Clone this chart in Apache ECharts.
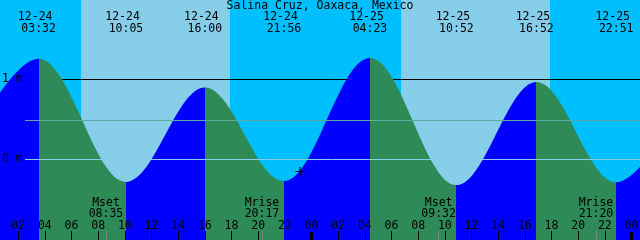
<!DOCTYPE html>
<html><head><meta charset="utf-8">
<script src="https://cdn.jsdelivr.net/npm/echarts@6/dist/echarts.min.js"></script>
<style>html,body{margin:0;padding:0;background:#00BFFF}#c{width:640px;height:240px}</style>
</head><body><div id="c"></div>
<script>
const chartTitle = 'Salina Cruz, Oaxaca, Mexico';
// tide extremes (first and last lie just outside the window)
const extremeDates = ['12-23','12-24','12-24','12-24','12-24','12-25','12-25','12-25','12-25','12-26'];
const extremeClock = ['20:50','03:32','10:05','16:00','21:56','04:23','10:52','16:52','22:51','05:25'];
const extremeHeights = [-0.30, 1.26, -0.28, 0.90, -0.27, 1.27, -0.32, 0.97, -0.285, 1.25];
// day (light) periods
const sunriseTimes = ['12-24 06:43', '12-25 06:43'];
const sunsetTimes = ['12-24 17:53', '12-25 17:53'];
// moon events
const moonEvents = ['Mset', 'Mrise', 'Mset', 'Mrise'];
const moonDates = ['12-24', '12-24', '12-25', '12-25'];
const moonClock = ['08:35', '20:17', '09:32', '21:20'];
// axis ticks (hours since 12-24 00:00)
const hourTicks = [2,4,6,8,10,12,14,16,18,20,22,24,26,28,30,32,34,36,38,40,42,44,46,48];
const midnightTicks = [24, 48];
const levelTicks = [0, 1];
const meanLevel = 0.49;
const nowTime = '12-24 23:08';
const nowHeight = -0.15;

// layout constants
const X_MIN = 0.635, X_MAX = 48.635;
const Y_MIN = -1.00625, Y_MAX = 1.99375;
const LINE_X0 = X_MIN + 1.875;
const FONT = 'DejaVu Sans Mono';
const FS = 11.5;

function toHours(date, clock) {
  const day = parseInt(date.split('-')[1], 10);
  const [h, m] = clock.split(':').map(Number);
  return (day - 24) * 24 + h + m / 60;
}
function toHoursDT(s) { const p = s.split(' '); return toHours(p[0], p[1]); }
function pad(n) { return (n < 10 ? '0' : '') + n; }

const extremeHours = extremeDates.map((d, i) => toHours(d, extremeClock[i]));
const tideData = extremeHours.map((h, i) => [h, extremeHeights[i]]);

const pieces = [];
for (let i = 0; i < extremeHours.length - 1; i++) {
  pieces.push({ gte: extremeHours[i], lt: extremeHours[i + 1],
    color: extremeHeights[i + 1] > extremeHeights[i] ? '#0000FF' : '#2E8B57' });
}

const topLabelMap = {};
const topValues = [];
extremeHours.forEach((h, i) => {
  if (h > X_MIN && h < X_MAX) { topValues.push(h); topLabelMap[h.toFixed(4)] = extremeDates[i] + ' \n' + extremeClock[i]; }
});
const moonHours = moonDates.map((d, i) => toHours(d, moonClock[i]));
const moonLabelMap = {};
moonHours.forEach((h, i) => { moonLabelMap[h.toFixed(4)] = moonEvents[i] + '\n' + moonClock[i]; });

const dayBands = sunriseTimes.map((s, i) => [{ xAxis: toHoursDT(s) }, { xAxis: toHoursDT(sunsetTimes[i]) }]);

const txt = { fontFamily: FONT, fontSize: FS, color: '#000' };
function baseX(extra) {
  return Object.assign({
    type: 'value', min: X_MIN, max: X_MAX, z: 10,
    axisLine: { show: false, onZero: false }, splitLine: { show: false },
    axisTick: { show: false }, axisLabel: { show: false }
  }, extra);
}

const option = {
  animation: false,
  backgroundColor: '#00BFFF',
  title: { text: chartTitle, left: 'center', top: 0, padding: 0,
    textStyle: { fontFamily: FONT, fontSize: FS, fontWeight: 'normal', color: '#000', lineHeight: 12 } },
  grid: { left: 0, right: 0, top: 0, bottom: 0, containLabel: false, outerBoundsMode: 'none' },
  visualMap: { type: 'piecewise', show: false, seriesIndex: 1, dimension: 0, pieces: pieces,
    outOfRange: { color: '#0000FF' } },
  xAxis: [
    baseX({ position: 'bottom',
      axisTick: { show: true, inside: true, length: 9, customValues: hourTicks, lineStyle: { color: '#000', width: 1 } },
      axisLabel: Object.assign({ show: true, inside: true, margin: 8, customValues: hourTicks, lineHeight: 12,
        formatter: v => pad(Math.round(v) % 24) }, txt) }),
    baseX({ position: 'bottom',
      axisTick: { show: true, inside: true, length: 8, customValues: midnightTicks, lineStyle: { color: '#000', width: 3 } } }),
    baseX({ position: 'bottom',
      axisTick: { show: true, inside: true, length: 10, customValues: moonHours, lineStyle: { color: '#6f8a78', width: 1 } },
      axisLabel: Object.assign({ show: true, inside: true, margin: 20, customValues: moonHours, lineHeight: 11,
        formatter: v => moonLabelMap[v.toFixed(4)] || '' }, txt) }),
    baseX({ position: 'top',
      axisLabel: Object.assign({ show: true, inside: true, margin: 11, customValues: topValues, lineHeight: 12,
        formatter: v => topLabelMap[v.toFixed(4)] || '' }, txt) })
  ],
  yAxis: [{
    type: 'value', min: Y_MIN, max: Y_MAX, z: 10,
    axisLine: { show: false, onZero: false }, splitLine: { show: false }, axisTick: { show: false },
    axisLabel: Object.assign({ show: true, inside: true, margin: 2, customValues: levelTicks,
      formatter: v => v + ' m' }, txt)
  }],
  series: [
    { type: 'line', data: [], silent: true, z: 1,
      markArea: { silent: true, z: 1, itemStyle: { color: '#87CEEB', opacity: 1 }, label: { show: false }, data: dayBands },
      markLine: { silent: true, z: 2, symbol: 'none', label: { show: false },
        lineStyle: { color: '#000', width: 1, type: 'solid', opacity: 1 },
        data: [[{ coord: [LINE_X0, 1] }, { coord: [X_MAX, 1] }]] } },
    { type: 'line', data: tideData, smooth: 0.36, smoothMonotone: 'x', symbol: 'none', showSymbol: false,
      silent: true, z: 3, lineStyle: { width: 0, opacity: 0 }, areaStyle: { opacity: 1, origin: 'start' } },
    { type: 'line', data: [], silent: true, z: 5,
      markLine: { silent: true, z: 5, symbol: 'none', label: { show: false },
        data: [
          [{ coord: [LINE_X0, meanLevel], lineStyle: { color: '#5AACA1', width: 1, type: 'solid', opacity: 1 } }, { coord: [X_MAX, meanLevel] }],
          [{ coord: [LINE_X0, 0], lineStyle: { color: '#87CEEB', width: 1, type: 'solid', opacity: 1 } }, { coord: [X_MAX, 0] }]
        ] } },
    { type: 'scatter', z: 6, silent: true, data: [[toHoursDT(nowTime), nowHeight]],
      symbol: 'path://M0,3.5H8V4.5H0Z M3.5,0H4.5V8H3.5Z', symbolSize: 9,
      itemStyle: { color: '#000', opacity: 1 } }
  ]
};
const chart = echarts.init(document.getElementById('c'), null, { renderer: 'canvas' });
chart.setOption(option);
</script></body></html>
